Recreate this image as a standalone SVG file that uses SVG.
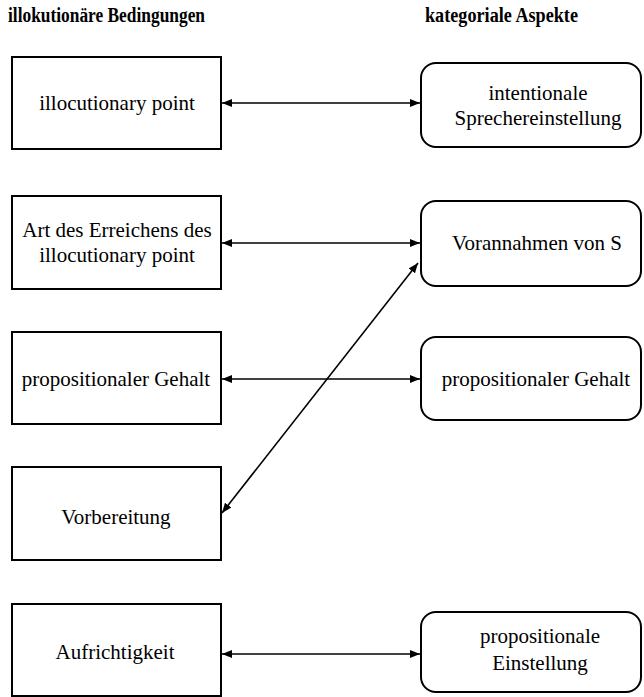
<svg xmlns="http://www.w3.org/2000/svg" width="644" height="697" viewBox="0 0 644 697">
<style>
.box{fill:#fff;stroke:#000;stroke-width:2}
.t{font-family:"Liberation Serif","Times New Roman",serif;font-size:21px;fill:#000;text-anchor:middle}
.h{font-family:"Liberation Serif","Times New Roman",serif;font-size:20px;font-weight:bold;fill:#000}
.c{stroke:#000;stroke-width:1.6;fill:none;marker-start:url(#ah);marker-end:url(#ah)}
</style>
<defs>
<marker id="ah" viewBox="0 0 10 8" refX="10" refY="4" markerWidth="10" markerHeight="8" markerUnits="userSpaceOnUse" orient="auto-start-reverse">
<path d="M0,0 L10,4 L0,8 Z" fill="#000"/>
</marker>
</defs>
<rect width="644" height="697" fill="#fff"/>
<text class="h" x="8" y="22" textLength="197" lengthAdjust="spacingAndGlyphs">illokutionäre Bedingungen</text>
<text class="h" x="425" y="22" textLength="153" lengthAdjust="spacingAndGlyphs">kategoriale Aspekte</text>

<g id="l1"><rect class="box" x="12" y="57" width="209" height="92"/><text class="t" x="117" y="110">illocutionary point</text></g>
<g id="l2"><rect class="box" x="12" y="196" width="209" height="93"/><text class="t" x="117" y="237">Art des Erreichens des</text><text class="t" x="117" y="262">illocutionary point</text></g>
<g id="l3"><rect class="box" x="12" y="332" width="209" height="92"/><text class="t" x="116" y="386">propositionaler Gehalt</text></g>
<g id="l4"><rect class="box" x="12" y="467" width="209" height="93"/><text class="t" x="116" y="524">Vorbereitung</text></g>
<g id="l5"><rect class="box" x="12" y="604" width="209" height="92"/><text class="t" x="115" y="659">Aufrichtigkeit</text></g>

<g id="r1"><rect class="box" x="421" y="63" width="220" height="84" rx="15"/><text class="t" x="538" y="100">intentionale</text><text class="t" x="538" y="125">Sprechereinstellung</text></g>
<g id="r2"><rect class="box" x="421" y="201" width="220" height="85" rx="15"/><text class="t" x="537" y="250">Vorannahmen von S</text></g>
<g id="r3"><rect class="box" x="421" y="337" width="220" height="83" rx="15"/><text class="t" x="536" y="386">propositionaler Gehalt</text></g>
<g id="r5"><rect class="box" x="421" y="612" width="220" height="80" rx="15"/><text class="t" x="540" y="643">propositionale</text><text class="t" x="540" y="670">Einstellung</text></g>

<g id="connectors">
<line class="c" x1="222" y1="103" x2="420" y2="103"/>
<line class="c" x1="222" y1="243" x2="420" y2="243"/>
<line class="c" x1="222" y1="379" x2="420" y2="379"/>
<line class="c" x1="222" y1="654" x2="420" y2="654"/>
<line class="c" x1="418" y1="263" x2="222" y2="513"/>
</g>
</svg>
